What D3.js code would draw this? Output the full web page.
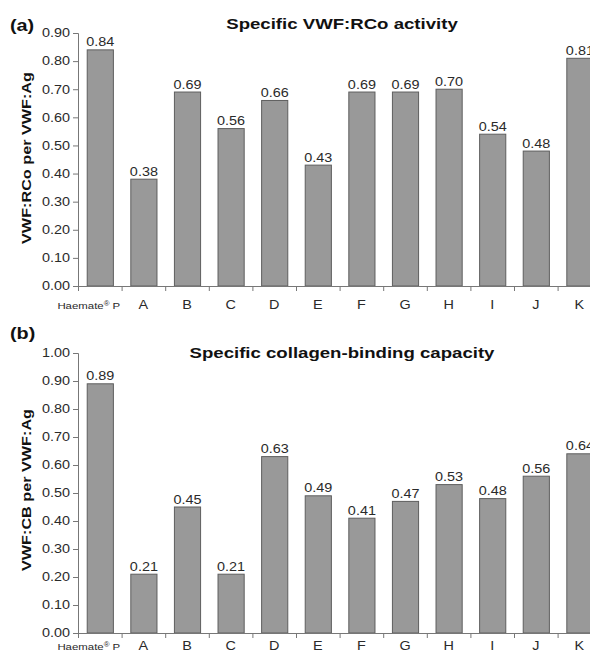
<!DOCTYPE html>
<html><head><meta charset="utf-8">
<script src="https://cdn.jsdelivr.net/npm/d3@7"></script>
<style>
html,body{margin:0;padding:0;background:#fff;}
svg{display:block;}
text{font-family:"Liberation Sans",Arial,Helvetica,sans-serif;}
</style></head>
<body>
<svg id="chart" width="590" height="654"></svg>
<script>
const categories = ["Haemate® P","A","B","C","D","E","F","G","H","I","J","K"];
const rcoValues = [0.84,0.38,0.69,0.56,0.66,0.43,0.69,0.69,0.70,0.54,0.48,0.81];
const cbValues  = [0.89,0.21,0.45,0.21,0.63,0.49,0.41,0.47,0.53,0.48,0.56,0.64];
const rcoTicks = [0,0.1,0.2,0.3,0.4,0.5,0.6,0.7,0.8,0.9];
const cbTicks  = [0,0.1,0.2,0.3,0.4,0.5,0.6,0.7,0.8,0.9,1.0];

const svg = d3.select("#chart");
const STRETCH = 1.2;
function stretch(sel){
  sel.each(function(){
    const w = this.getComputedTextLength();
    this.setAttribute("textLength", (w*STRETCH).toFixed(2));
    this.setAttribute("lengthAdjust","spacingAndGlyphs");
  });
  return sel;
}

const panels = [
  {letter:"(a)", title:"Specific VWF:RCo activity", ylabel:"VWF:RCo per VWF:Ag",
   values:rcoValues, ticks:rcoTicks, ymax:0.9, y0:286, y1:33,
   letterY:31, titleY:29, ylabelY:158, catDy:23},
  {letter:"(b)", title:"Specific collagen-binding capacity", ylabel:"VWF:CB per VWF:Ag",
   values:cbValues, ticks:cbTicks, ymax:1.0, y0:633, y1:353,
   letterY:339, titleY:358, ylabelY:490, catDy:16.5}
];

const axisX = 78;
const x = d3.scaleBand().domain(categories).range([axisX, axisX + 12*43.6])
  .paddingInner(0.4).paddingOuter(0.2);

panels.forEach(p => {
  const g = svg.append("g");
  const y = d3.scaleLinear().domain([0, p.ymax]).range([p.y0, p.y1]);

  g.selectAll("rect.bar").data(p.values).enter().append("rect")
    .attr("class","bar")
    .attr("x",(d,i)=>x(categories[i])+0.5)
    .attr("y",d=>y(d))
    .attr("width",x.bandwidth())
    .attr("height",d=>y(0)-y(d))
    .attr("fill","#999999")
    .attr("stroke","#5e5e5e")
    .attr("stroke-width",1);

  const vl = g.selectAll("text.val").data(p.values).enter().append("text")
    .attr("class","val")
    .attr("x",(d,i)=>x(categories[i])+x.bandwidth()/2+0.5)
    .attr("y",d=>y(d)-3.5)
    .attr("text-anchor","middle")
    .attr("font-size","12px")
    .attr("fill","#2a2a2a")
    .text(d=>d.toFixed(2));
  stretch(vl);

  const yAxis = d3.axisLeft(y).tickValues(p.ticks).tickFormat(d3.format(".2f"))
    .tickSizeOuter(0).tickSize(5).tickPadding(3);
  const ya = g.append("g").attr("transform",`translate(${axisX},0)`).call(yAxis);
  ya.select(".domain").attr("stroke","#777");
  ya.selectAll(".tick line").attr("stroke","#777");
  ya.selectAll(".tick text").attr("font-size","12px").attr("fill","#2a2a2a")
    .attr("font-family",null);
  stretch(ya.selectAll(".tick text"));

  g.append("line").attr("x1",axisX).attr("x2",600).attr("y1",y(0)+0.5).attr("y2",y(0)+0.5)
    .attr("stroke","#777");
  const bounds = d3.range(categories.length+1).map(i=>axisX + i*x.step());
  g.selectAll("line.xt").data(bounds).enter().append("line")
    .attr("x1",d=>d+0.5).attr("x2",d=>d+0.5)
    .attr("y1",y(0)).attr("y2",y(0)+5)
    .attr("stroke","#777");

  categories.forEach((c,i)=>{
    const cx = x(c)+x.bandwidth()/2;
    if(i===0){
      const t = g.append("text").attr("x",cx-11).attr("y",y(0)+p.catDy)
        .attr("text-anchor","middle").attr("font-size","9.5px").attr("fill","#2a2a2a");
      t.append("tspan").text("Haemate");
      t.append("tspan").attr("font-size","6.5px").attr("dy","-3").text("®");
      t.append("tspan").attr("dy","3").text(" P");
      stretch(t);
    } else {
      const t = g.append("text").attr("x",cx).attr("y",y(0)+p.catDy)
        .attr("text-anchor","middle").attr("font-size","12px").attr("fill","#2a2a2a").text(c);
      stretch(t);
    }
  });

  stretch(svg.append("text").attr("x",10).attr("y",p.letterY)
    .attr("font-size","16.5px").attr("font-weight","bold").attr("fill","#111").text(p.letter));
  stretch(svg.append("text").attr("x",342).attr("y",p.titleY).attr("text-anchor","middle")
    .attr("font-size","15.5px").attr("font-weight","bold").attr("fill","#111").text(p.title));
  stretch(svg.append("text").attr("transform",`translate(31,${p.ylabelY}) rotate(-90)`)
    .attr("text-anchor","middle").attr("font-size","13.5px").attr("font-weight","bold")
    .attr("fill","#111").text(p.ylabel));
});
</script>
</body></html>
